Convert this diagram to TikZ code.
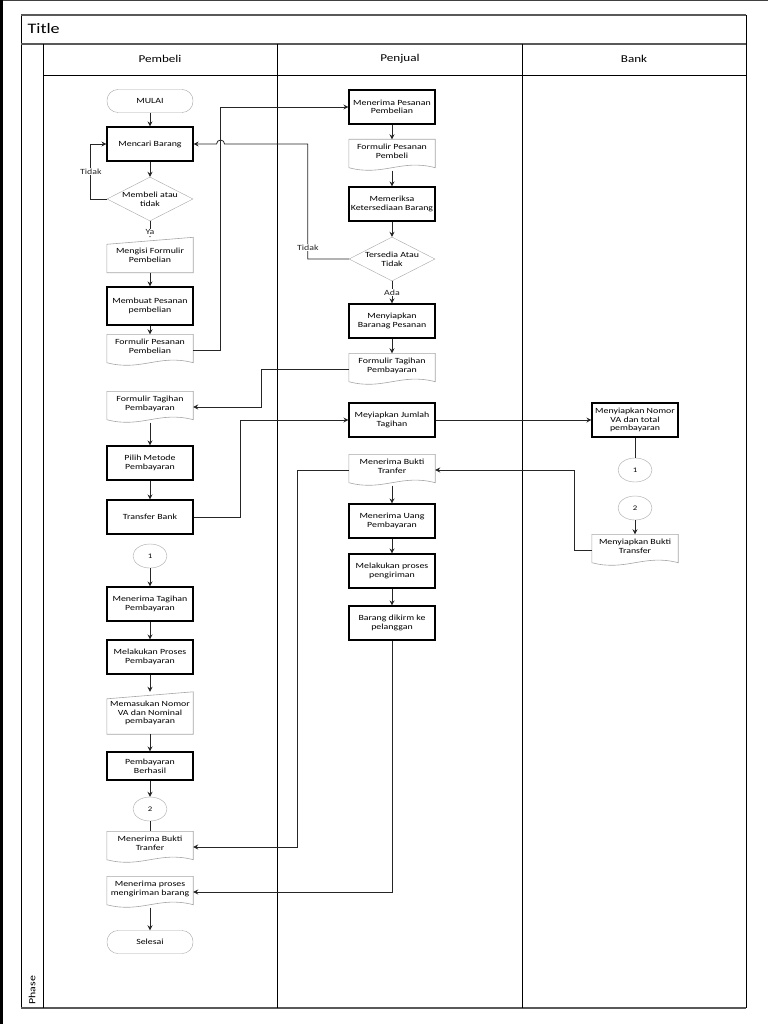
\documentclass[tikz,border=0pt]{standalone}
\usepackage{fontspec}
\setmainfont{Carlito}[FakeStretch=1.25]
\usetikzlibrary{arrows.meta, shapes.geometric}
\tikzset{
  font=\fontsize{7.9}{8.6}\selectfont,
  % Set arrowhead
  >={Stealth[length=5pt, width=5pt]},
  % Process box
  proc/.style={draw=black, line width=1.1pt, fill=white, minimum width=86pt,
    minimum height=34pt, inner sep=1pt, align=center},
  % Start and end
  term/.style={draw=gray!70, rounded corners=11pt, minimum width=86pt,
    minimum height=23pt, inner sep=1pt},
  % Decision
  deci/.style={draw=gray!70, shape=diamond, aspect=2, minimum width=86pt,
    minimum height=44pt, inner sep=0pt, align=center},
  % Off-page connector
  conn/.style={draw=gray!70, shape=ellipse, minimum width=34pt,
    minimum height=24pt, inner sep=0pt, font=\fontsize{7}{8}\selectfont},
  % Document and manual input (outline drawn afterwards)
  doc/.style={minimum width=86pt, minimum height=31pt, inner sep=0pt,
    align=center, text depth=8pt},
  minp/.style={minimum width=86pt, minimum height=35pt, inner sep=0pt,
    align=center},
  docline/.style={draw=gray!70, line width=0.6pt},
  % Connectors
  flow/.style={->, line width=0.8pt, black!85},
  plain/.style={line width=0.8pt, black!85},
  lbl/.style={fill=white, inner sep=1pt},
  % Swimlane frame
  lane/.style={line width=0.8pt, black},
  band/.style={line width=1.4pt, gray!70!black},
  head/.style={font=\fontsize{10.5}{12}\selectfont},
}

\begin{document}
\begin{tikzpicture}[x=1pt, y=-1pt]
  \useasboundingbox (0,0) rectangle (768,1024);

  % scan edges
  \draw[line width=1.2pt, black!75] (0,0.6) -- (768,0.6);
  \draw[line width=3pt, black] (1.5,0) -- (1.5,1024);

  % frame
  \draw[lane] (21,15) -- (21,1008);
  \draw[lane] (746,15) -- (746,1008);
  \draw[band] (21,15) -- (746,15);
  \draw[band] (21,44) -- (746,44);
  \draw[band] (21,1008) -- (746,1008);
  \draw[lane] (43,44) -- (43,1008);
  \draw[lane] (43,75) -- (746,75);
  \draw[lane] (277,44) -- (277,1008);
  \draw[lane] (522,44) -- (522,1008);

  \node[anchor=west, font=\fontsize{14.5}{16}\selectfont] (title) at (24,29) {Title};
  \node[head] (hbeli) at (160,59) {Pembeli};
  \node[head] (hjual) at (400,59) {Penjual};
  \node[head] (hbank) at (634,59) {Bank};
  \node[rotate=90, anchor=west, font=\fontsize{9.5}{11}\selectfont] (phase) at (32,1008) {Phase};

  % Pembeli
  \node[term] (mulai) at (150,101) {MULAI};
  \node[proc] (cari) at (150,144) {Mencari Barang};
  \node[deci] (beli) at (150,199) {Membeli atau\\tidak};
  \node[minp] (isi) at (150,255) {Mengisi Formulir\\Pembelian};
  \node[proc, minimum height=38pt] (buat) at (150,306) {Membuat Pesanan\\pembelian};
  \node[doc] (fpesan) at (150,350) {Formulir Pesanan\\Pembelian};
  \node[doc] (ftagih) at (150,407) {Formulir Tagihan\\Pembayaran};
  \node[proc] (metode) at (150,463) {Pilih Metode\\Pembayaran};
  \node[proc] (tbank) at (150,517) {Transfer Bank};
  \node[conn] (ca) at (150,556) {1};
  \node[proc] (terima) at (150,604) {Menerima Tagihan\\Pembayaran};
  \node[proc] (proses) at (150,657) {Melakukan Proses\\Pembayaran};
  \node[minp, minimum height=42pt] (masuk) at (150,713) {Memasukan Nomor\\VA dan Nominal\\pembayaran};
  \node[proc, minimum height=28pt] (hasil) at (150,766) {Pembayaran\\Berhasil};
  \node[conn] (cb) at (150,809) {2};
  \node[doc] (bukti) at (150,847) {Menerima Bukti\\Tranfer};
  \node[doc] (kirim) at (150,892) {Menerima proses\\mengiriman barang};
  \node[term] (selesai) at (150,942) {Selesai};

  % Penjual
  \node[proc] (psn) at (392,107) {Menerima Pesanan\\Pembelian};
  \node[doc] (fpb) at (392,155) {Formulir Pesanan\\Pembeli};
  \node[proc] (periksa) at (392,204) {Memeriksa\\Ketersediaan Barang};
  \node[deci] (sedia) at (392,259) {Tersedia Atau\\Tidak};
  \node[proc] (siap) at (392,321) {Menyiapkan\\Baranag Pesanan};
  \node[doc] (ftp) at (392,369) {Formulir Tagihan\\Pembayaran};
  \node[proc] (jumlah) at (392,420) {Meyiapkan Jumlah\\Tagihan};
  \node[doc] (mbukti) at (392,470) {Menerima Bukti\\Tranfer};
  \node[proc] (uang) at (392,521) {Menerima Uang\\Pembayaran};
  \node[proc] (kirimp) at (392,571) {Melakukan proses\\pengiriman};
  \node[proc] (dikirim) at (392,623) {Barang dikirm ke\\pelanggan};

  % Bank
  \node[proc] (nomorva) at (635,420) {Menyiapkan Nomor\\VA dan total\\pembayaran};
  \node[conn] (cc) at (635,470) {1};
  \node[conn] (cd) at (635,508) {2};
  \node[doc] (btransfer) at (635,550) {Menyiapkan Bukti\\Transfer};

  % document outlines
  \foreach \n in {fpesan, ftagih, bukti, kirim, fpb, ftp, mbukti, btransfer}
    \draw[docline] ([yshift=3pt]\n.south west) -- (\n.north west) -- (\n.north east)
      -- ([yshift=3pt]\n.south east)
      .. controls ([xshift=-34pt, yshift=12pt]\n.south east)
      and ([xshift=34pt, yshift=-6pt]\n.south west) .. ([yshift=3pt]\n.south west);
  % manual input outlines
  \foreach \n in {isi, masuk}
    \draw[docline] (\n.south west) -- (\n.south east) -- (\n.north east)
      -- ([yshift=-7pt]\n.north west) -- cycle;

  % Pembeli flow
  \draw[flow] (mulai) -- (cari);
  \draw[flow] (cari) -- (beli);
  \draw[flow] (beli.west) -- ++(-16,0) coordinate (tl)
    -- node[lbl] {Tidak} (tl |- cari.west) -- (cari.west);
  \draw[flow] (beli) -- node[lbl, pos=0.7] {Ya} (isi);
  \draw[flow] (isi) -- (buat);
  \draw[flow] (buat) -- (fpesan);
  \draw[flow] (ftagih) -- (metode);
  \draw[flow] (metode) -- (tbank);
  \draw[flow] (ca) -- (terima);
  \draw[flow] (terima) -- (proses);
  \draw[flow] (proses) -- (masuk);
  \draw[flow] (masuk) -- (hasil);
  \draw[flow] (hasil) -- (cb);
  \draw[plain] (cb) -- (bukti);
  \draw[flow] (kirim) -- (selesai);

  % Penjual flow
  \draw[flow] (psn) -- (fpb);
  \draw[flow] (fpb) -- (periksa);
  \draw[flow] (periksa) -- (sedia);
  \draw[flow] (sedia) -- node[lbl] {Ada} (siap);
  \draw[flow] (siap) -- (ftp);
  \draw[flow] (mbukti) -- (uang);
  \draw[flow] (uang) -- (kirimp);
  \draw[flow] (kirimp) -- (dikirim);

  % Bank flow
  \draw[plain] (nomorva) -- (cc);
  \draw[flow] (cd) -- (btransfer);

  % between lanes
  \path (cari.east) -- ++(27,0) coordinate (jmp);
  \draw[flow] (fpesan.east) -- ++(27,0) |- (psn.west);
  \draw[flow] (sedia.west) -- ++(-41,0) coordinate (tk)
    -- node[lbl, pos=0.1] {Tidak} (tk |- cari.east)
    -- ([xshift=4pt]jmp) arc[start angle=0, end angle=-180, radius=4]
    -- (cari.east);
  \draw[flow] (ftp.west) -- ++(-87,0) |- (ftagih.east);
  \draw[flow] (tbank.east) -- ++(47,0) |- (jumlah.west);
  \draw[flow] (jumlah) -- (nomorva);
  \draw[flow] (btransfer.west) -- ++(-17,0) |- (mbukti.east);
  \draw[flow] (mbukti.west) -- ++(-51,0) |- (bukti.east);
  \draw[flow] (dikirim.south) |- (kirim.east);
\end{tikzpicture}
\end{document}
